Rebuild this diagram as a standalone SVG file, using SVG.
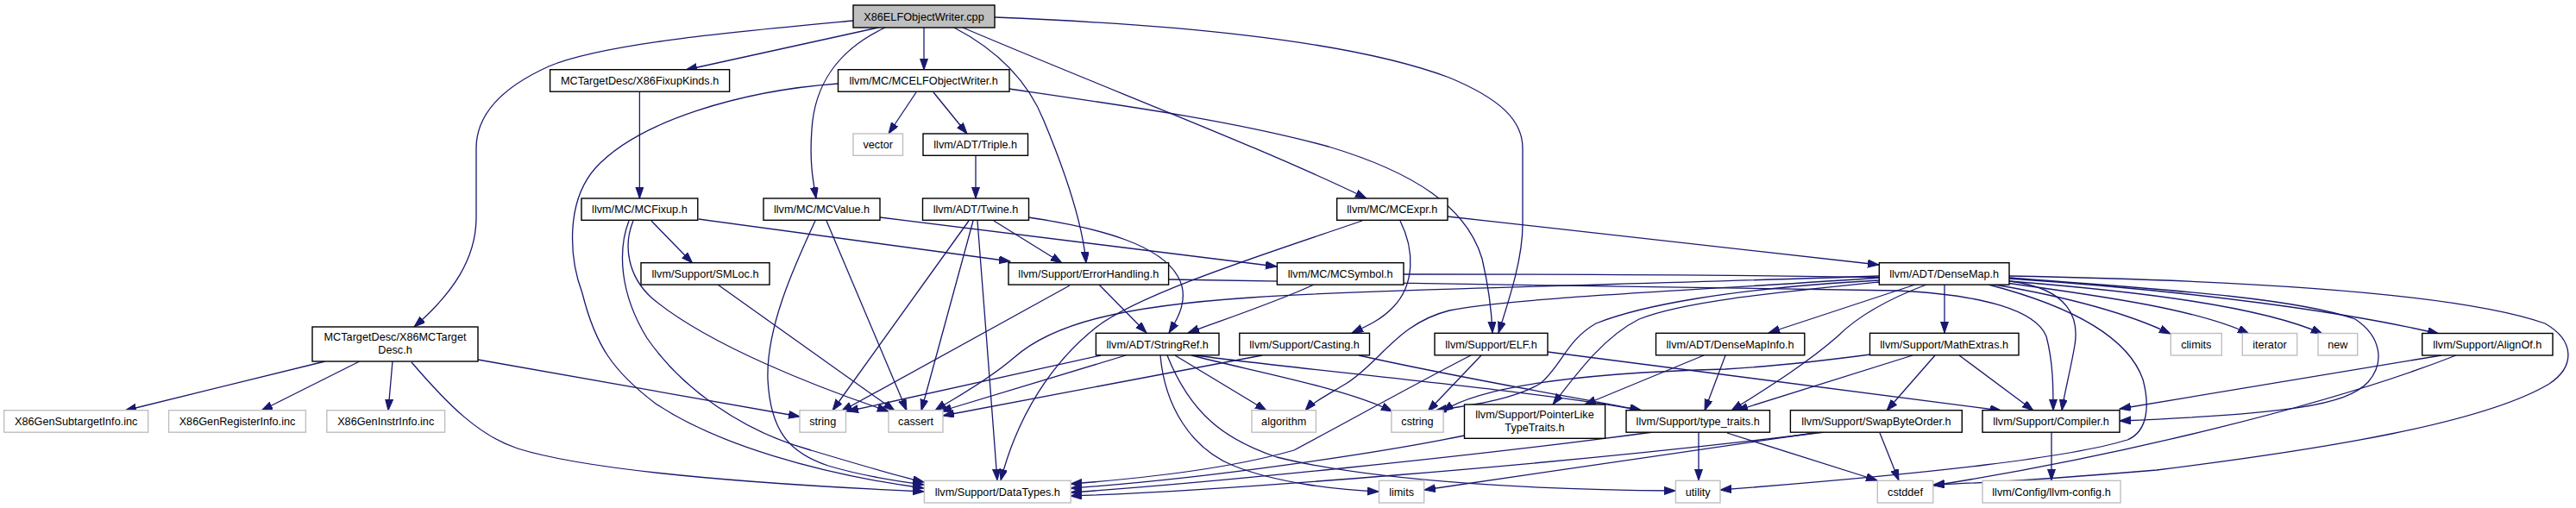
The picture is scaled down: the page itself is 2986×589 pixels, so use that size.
<svg xmlns="http://www.w3.org/2000/svg" width="2986" height="589" viewBox="0 0 2986 589">
<style>
.n rect{fill:#fff;stroke:#000;stroke-width:1.4}
.g rect{fill:#fff;stroke:#bfbfbf;stroke-width:1.4}
.r rect{fill:#bfbfbf;stroke:#000;stroke-width:1.4}
text{font-family:"Liberation Sans",Arial,sans-serif;font-size:12.7px;text-anchor:middle;fill:#000}
#edges path{fill:none;stroke:#191970;stroke-width:1.3;marker-end:url(#ah)}
</style>
<defs>
<marker id="ah" markerUnits="userSpaceOnUse" markerWidth="14" markerHeight="10" refX="13" refY="4.5" orient="auto">
<path d="M0,0 L13,4.5 L0,9 Z" fill="#191970" stroke="#191970" stroke-width="1"/>
</marker>
</defs>
<rect width="2986" height="589" fill="#fff"/>
<g id="edges">
<path d="M989,24 C860,36 700,50 636,77 C585,100 552,130 552,172 L552,252 C552,300 525,340 480,379"/>
<path d="M1018,32 L795,81"/>
<path d="M1071,32 L1071,81"/>
<path d="M1026,32 C970,58 944,100 941,150 C938,190 943,212 946,230"/>
<path d="M1106,32 C1150,55 1190,90 1210,140 C1235,200 1255,260 1259,305"/>
<path d="M1116,32 C1300,110 1460,170 1584,230"/>
<path d="M1153,20 C1350,28 1560,45 1680,90 C1740,115 1765,140 1765,172 L1765,260 C1765,300 1750,345 1737,386"/>
<path d="M1062,107 L1030,155"/>
<path d="M1082,107 L1121,155"/>
<path d="M971.5,97 C860,105 740,140 690,195 C655,235 660,300 675,340 C690,400 710,430 760,468 C830,515 950,550 1071,566"/>
<path d="M1170,103 C1300,122 1430,140 1540,170 C1640,200 1700,240 1718,300 C1725,330 1729,360 1730,386"/>
<path d="M741.4,106 L741.4,230"/>
<path d="M1131,180 L1131,230"/>
<path d="M376.7,419 L145,476"/>
<path d="M416.7,419 L303,476"/>
<path d="M455,419 L450,476"/>
<path d="M554,417 L927,483"/>
<path d="M477,420 C520,470 555,505 600,520 C680,545 850,560 1071,570"/>
<path d="M755,256 L802.6,305"/>
<path d="M809.8,254 L1171,303"/>
<path d="M734,256 C722,285 728,320 755,345 C820,400 950,450 1030,477"/>
<path d="M729,256 C716,290 718,340 750,392 C790,450 860,500 940,522 C1000,540 1040,552 1071,559"/>
<path d="M1020,252 L1480,309"/>
<path d="M958,256 L1051,476"/>
<path d="M945,256 C920,310 888,380 890,440 C893,500 915,525 960,540 C1000,552 1040,558 1071,562"/>
<path d="M1123,256 L965,476"/>
<path d="M1128,256 L1068,476"/>
<path d="M1133,256 C1140,350 1150,470 1156,557"/>
<path d="M1152,256 L1231,305"/>
<path d="M1192,252 C1280,265 1345,285 1365,320 C1380,345 1365,370 1355,386"/>
<path d="M1579,256 C1480,290 1320,340 1270,380 C1220,420 1180,480 1160,557"/>
<path d="M1623,256 C1640,290 1640,330 1615,356 C1600,372 1580,380 1567,386"/>
<path d="M1678,251 L2178,307"/>
<path d="M832,330 L1037,476"/>
<path d="M1240,331 L975,477"/>
<path d="M1274,330 L1329,386"/>
<path d="M1354.6,324 C1700,330 2100,333 2200,337 C2300,342 2360,360 2372,390 C2380,420 2380,450 2380,476"/>
<path d="M1523,330 C1480,350 1420,370 1377,386"/>
<path d="M1627,318 C1900,318 2200,320 2330,326 C2400,335 2410,370 2405,400 C2400,430 2393,455 2390,476"/>
<path d="M2178,320 C1900,330 1600,335 1450,345 C1300,355 1220,375 1175,415 C1140,445 1100,465 1084,476"/>
<path d="M2178,322 C2000,335 1750,345 1680,360 C1620,375 1600,420 1560,445 C1535,460 1520,468 1513,476"/>
<path d="M2178,325 C2000,335 1900,355 1850,375 C1815,395 1810,425 1785,445 C1750,465 1700,470 1664,476"/>
<path d="M2178,327 C2050,340 1950,350 1900,370 C1860,390 1830,430 1800,469"/>
<path d="M2220,330 L2050,386"/>
<path d="M2254,330 L2254,386"/>
<path d="M2233,330 C2180,350 2150,370 2130,390 C2090,425 2040,455 2007,476"/>
<path d="M2312,330 C2400,345 2470,365 2516,387"/>
<path d="M2325,328 C2450,345 2550,360 2607,387"/>
<path d="M2329,326 C2480,338 2620,355 2692,387"/>
<path d="M2329,323 C2550,338 2720,362 2827,387"/>
<path d="M2329,322 C2500,335 2660,345 2730,370 C2760,390 2765,420 2745,443 C2720,470 2650,480 2457,488"/>
<path d="M2329,320 C2600,325 2850,340 2950,375 C2985,395 2985,425 2955,445 C2880,490 2700,520 2500,545 C2380,555 2300,560 2241,562"/>
<path d="M2305,330 C2420,360 2470,400 2484,440 C2492,470 2490,500 2466,510 C2400,530 2250,548 1994,568"/>
<path d="M1276,412 L982,477"/>
<path d="M1305,412 L1090,477"/>
<path d="M1362,412 L1468,476"/>
<path d="M1381,412 C1450,430 1560,450 1614,477"/>
<path d="M1386,412 C1500,428 1800,455 1902,476"/>
<path d="M1345,412 C1350,470 1380,520 1430,540 C1480,560 1550,568 1598,570"/>
<path d="M1353,412 C1380,480 1420,510 1480,530 C1600,560 1800,568 1942,569"/>
<path d="M1463,412 L1093,482"/>
<path d="M1575,412 C1700,440 1850,465 1903,476"/>
<path d="M1794,408 L2320,476"/>
<path d="M1705,412 C1650,440 1560,490 1500,522 C1420,545 1320,555 1241,561"/>
<path d="M1717,412 L1655,477"/>
<path d="M1975,412 L1837,469"/>
<path d="M2000,412 L1976,476"/>
<path d="M2168,411 C2100,420 2050,425 2000,428 C1850,432 1720,445 1672,477"/>
<path d="M2217,412 L2013,476"/>
<path d="M2243,412 L2187,476"/>
<path d="M2271,412 L2357,476"/>
<path d="M2830,412 L2457,474"/>
<path d="M2847,412 C2700,470 2450,530 2241,563"/>
<path d="M1697.5,505 C1600,525 1400,555 1241,566"/>
<path d="M1916,501 C1700,530 1400,560 1241,571"/>
<path d="M1969,501 L1969,557"/>
<path d="M2002,502 L2176,557"/>
<path d="M2115,501 C1800,540 1400,570 1241,575"/>
<path d="M2103,502 L1651,568"/>
<path d="M2179,502 L2201,557"/>
<path d="M2378,501 L2378,557"/>
</g>
<g id="n0" class="r"><rect x="989" y="6" width="164" height="26"/><text x="1071" y="23.5">X86ELFObjectWriter.cpp</text></g>
<g id="n1" class="n"><rect x="637.6" y="80.7" width="208" height="25.5"/><text x="741.6" y="97.9">MCTargetDesc/X86FixupKinds.h</text></g>
<g id="n2" class="n"><rect x="971.5" y="80.7" width="198.5" height="25.5"/><text x="1070.7" y="97.9">llvm/MC/MCELFObjectWriter.h</text></g>
<g id="n3" class="n"><rect x="362" y="379" width="192" height="40"/><text x="458" y="395.2">MCTargetDesc/X86MCTarget</text><text x="458" y="410.2">Desc.h</text></g>
<g id="n4" class="g"><rect x="989" y="155" width="57.5" height="25.3"/><text x="1017.7" y="172.2">vector</text></g>
<g id="n5" class="n"><rect x="1070" y="155" width="121.5" height="25.3"/><text x="1130.7" y="172.2">llvm/ADT/Triple.h</text></g>
<g id="n6" class="n"><rect x="674" y="230" width="134.8" height="25.3"/><text x="741.4" y="247.2">llvm/MC/MCFixup.h</text></g>
<g id="n7" class="n"><rect x="885" y="230" width="135" height="25.3"/><text x="952.5" y="247.2">llvm/MC/MCValue.h</text></g>
<g id="n8" class="n"><rect x="1069.5" y="230" width="123" height="25.3"/><text x="1131" y="247.2">llvm/ADT/Twine.h</text></g>
<g id="n9" class="n"><rect x="1549.7" y="230" width="128.3" height="25.3"/><text x="1613.8" y="247.2">llvm/MC/MCExpr.h</text></g>
<g id="n10" class="n"><rect x="743" y="304.7" width="149" height="25.4"/><text x="817.5" y="321.9">llvm/Support/SMLoc.h</text></g>
<g id="n11" class="n"><rect x="1169" y="304.7" width="185.6" height="25.4"/><text x="1261.8" y="321.9">llvm/Support/ErrorHandling.h</text></g>
<g id="n12" class="n"><rect x="1480.4" y="304.7" width="146.6" height="25.4"/><text x="1553.7" y="321.9">llvm/MC/MCSymbol.h</text></g>
<g id="n13" class="n"><rect x="2178.3" y="304.7" width="150.7" height="25.4"/><text x="2253.7" y="321.9">llvm/ADT/DenseMap.h</text></g>
<g id="n14" class="n"><rect x="1270.4" y="386.3" width="142.6" height="25.5"/><text x="1341.7" y="403.5">llvm/ADT/StringRef.h</text></g>
<g id="n15" class="n"><rect x="1436.8" y="386.3" width="150.7" height="25.5"/><text x="1512.1" y="403.5">llvm/Support/Casting.h</text></g>
<g id="n16" class="n"><rect x="1663" y="386.3" width="131" height="25.5"/><text x="1728.5" y="403.5">llvm/Support/ELF.h</text></g>
<g id="n17" class="n"><rect x="1919.5" y="386.3" width="172.3" height="25.5"/><text x="2005.6" y="403.5">llvm/ADT/DenseMapInfo.h</text></g>
<g id="n18" class="n"><rect x="2167.5" y="386.3" width="172.5" height="25.5"/><text x="2253.7" y="403.5">llvm/Support/MathExtras.h</text></g>
<g id="n19" class="g"><rect x="2516.3" y="386.5" width="59" height="25.5"/><text x="2545.8" y="403.7">climits</text></g>
<g id="n20" class="g"><rect x="2599.3" y="386.5" width="63.4" height="25.5"/><text x="2631" y="403.7">iterator</text></g>
<g id="n21" class="g"><rect x="2687" y="386.5" width="45.7" height="25.5"/><text x="2709.8" y="403.7">new</text></g>
<g id="n22" class="n"><rect x="2807.7" y="386.5" width="151.3" height="25.5"/><text x="2883.3" y="403.7">llvm/Support/AlignOf.h</text></g>
<g id="n23" class="g"><rect x="4.7" y="475.7" width="167" height="25.5"/><text x="88.2" y="493">X86GenSubtargetInfo.inc</text></g>
<g id="n24" class="g"><rect x="195.6" y="475.7" width="158.8" height="25.5"/><text x="275" y="493">X86GenRegisterInfo.inc</text></g>
<g id="n25" class="g"><rect x="378.8" y="475.7" width="136.8" height="25.5"/><text x="447.2" y="493">X86GenInstrInfo.inc</text></g>
<g id="n26" class="g"><rect x="927" y="475.7" width="53.5" height="25.5"/><text x="953.7" y="493">string</text></g>
<g id="n27" class="g"><rect x="1030" y="475.7" width="63" height="25.5"/><text x="1061.5" y="493">cassert</text></g>
<g id="n28" class="g"><rect x="1451" y="475.7" width="74.4" height="25.5"/><text x="1488.2" y="493">algorithm</text></g>
<g id="n29" class="g"><rect x="1612.9" y="475.7" width="60.2" height="25.5"/><text x="1643" y="493">cstring</text></g>
<g id="n30" class="n"><rect x="1697.5" y="469" width="163.1" height="39.3"/><text x="1779" y="485">llvm/Support/PointerLike</text><text x="1779" y="499.5">TypeTraits.h</text></g>
<g id="n31" class="n"><rect x="1885" y="475.7" width="166.5" height="25.5"/><text x="1968.2" y="493">llvm/Support/type_traits.h</text></g>
<g id="n32" class="n"><rect x="2075.4" y="475.7" width="198.9" height="25.5"/><text x="2174.9" y="493">llvm/Support/SwapByteOrder.h</text></g>
<g id="n33" class="n"><rect x="2298" y="475.7" width="159" height="25.5"/><text x="2377.5" y="493">llvm/Support/Compiler.h</text></g>
<g id="n34" class="g"><rect x="1071.4" y="557.3" width="169.8" height="25.7"/><text x="1156.3" y="574.7">llvm/Support/DataTypes.h</text></g>
<g id="n35" class="g"><rect x="1598.5" y="557.3" width="52.2" height="25.7"/><text x="1624.6" y="574.7">limits</text></g>
<g id="n36" class="g"><rect x="1942.4" y="557.3" width="51.6" height="25.7"/><text x="1968.2" y="574.7">utility</text></g>
<g id="n37" class="g"><rect x="2176.3" y="557.3" width="64.5" height="25.7"/><text x="2208.5" y="574.7">cstddef</text></g>
<g id="n38" class="g"><rect x="2298" y="557.3" width="160" height="25.7"/><text x="2378" y="574.7">llvm/Config/llvm-config.h</text></g>
</svg>
